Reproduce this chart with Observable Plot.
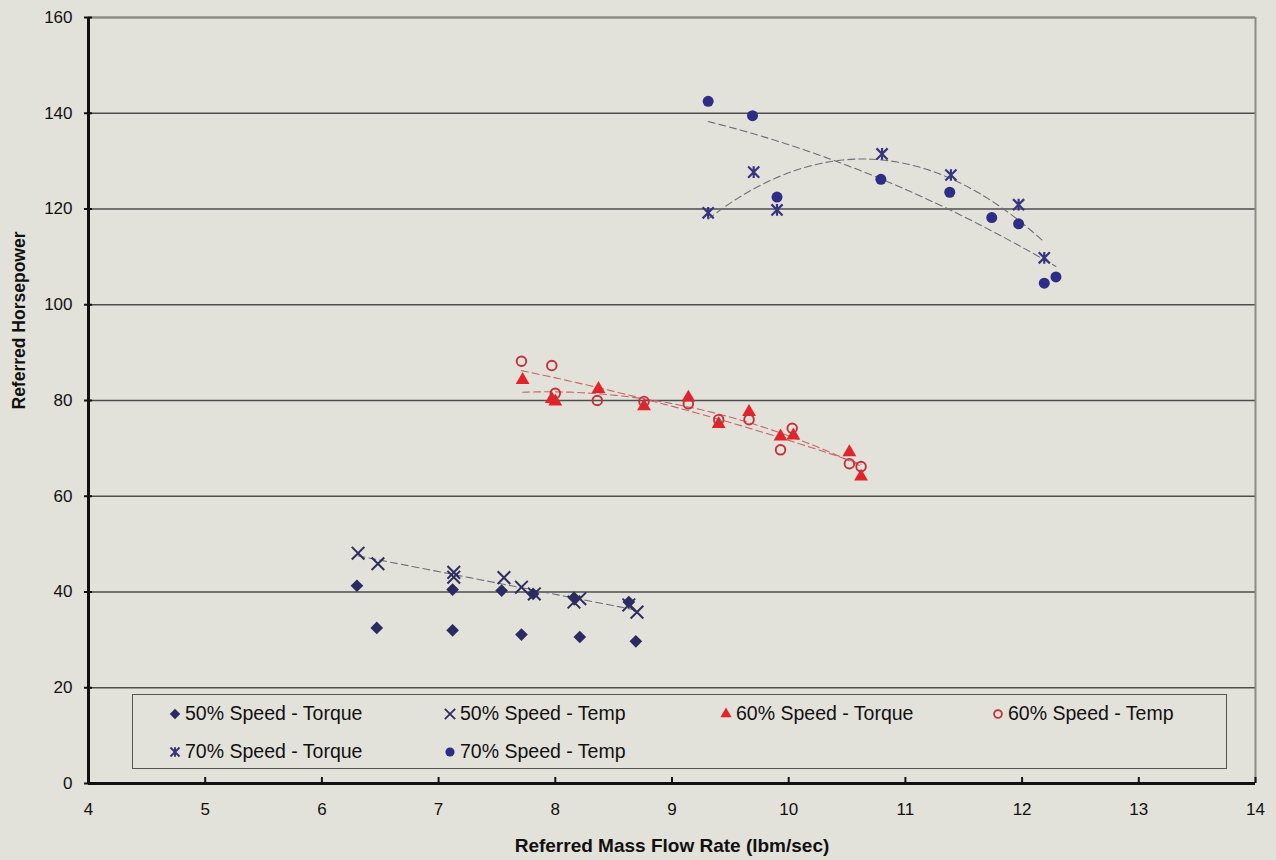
<!DOCTYPE html>
<html>
<head>
<meta charset="utf-8">
<script src="https://cdn.jsdelivr.net/npm/d3@7"></script>
<script src="https://cdn.jsdelivr.net/npm/@observablehq/plot@0.6"></script>
<style>
  html, body { margin: 0; padding: 0; background: #e3e2da; }
  #wrap { position: relative; width: 1276px; height: 860px; font-family: "Liberation Sans", Arial, sans-serif; color: #111; }
  #legend { position: absolute; left: 132px; top: 694px; width: 1093px; height: 73px; border: 1.5px solid #555; background: #e3e2da; }
  .item { position: absolute; display: flex; align-items: center; font-size: 19.5px; white-space: nowrap; }
  .item svg { display: block; margin-right: 3px; }
</style>
</head>
<body>
<div id="wrap"><div id="legend"></div></div>
<script>
// ---- Data ----
const xTicks = [4, 5, 6, 7, 8, 9, 10, 11, 12, 13, 14];
const yTicks = [0, 20, 40, 60, 80, 100, 120, 140, 160];
const xDomain = [4, 14];
const yDomain = [0, 160];

const t50x = [6.30, 6.47, 7.12, 7.12, 7.54, 7.71, 7.81, 8.21, 8.16, 8.63, 8.69];
const t50y = [41.3, 32.5, 40.5, 32.0, 40.3, 31.1, 39.6, 30.6, 38.8, 37.9, 29.7];
const p50x = [6.31, 6.48, 7.13, 7.13, 7.56, 7.71, 7.82, 8.16, 8.21, 8.63, 8.70];
const p50y = [48.1, 45.9, 44.1, 43.1, 43.0, 41.0, 39.6, 37.9, 38.6, 37.3, 35.8];
const t60x = [7.72, 7.97, 8.00, 8.37, 8.76, 9.14, 9.40, 9.66, 9.93, 10.04, 10.52, 10.62];
const t60y = [84.3, 80.3, 79.8, 82.4, 78.8, 80.6, 75.1, 77.6, 72.5, 72.7, 69.2, 64.1];
const p60x = [7.71, 7.97, 8.00, 8.36, 8.76, 9.14, 9.40, 9.66, 9.93, 10.03, 10.52, 10.62];
const p60y = [88.2, 87.3, 81.5, 80.0, 79.8, 79.3, 76.0, 76.0, 69.7, 74.2, 66.8, 66.2];
const t70x = [9.31, 9.70, 9.90, 10.80, 11.39, 11.97, 12.19];
const t70y = [119.2, 127.7, 119.8, 131.5, 127.1, 120.9, 109.8];
const p70x = [9.31, 9.69, 9.90, 10.79, 11.38, 11.74, 11.97, 12.19, 12.29];
const p70y = [142.5, 139.5, 122.5, 126.2, 123.5, 118.2, 116.9, 104.5, 105.8];

const seriesNames = ["50% Speed - Torque", "50% Speed - Temp", "60% Speed - Torque", "60% Speed - Temp", "70% Speed - Torque", "70% Speed - Temp"];
const xTitle = "Referred Mass Flow Rate (lbm/sec)";
const yTitle = "Referred Horsepower";

// ---- Helpers ----
const rows = (xs, ys) => xs.map((x, i) => ({x, y: ys[i]}));

function polyFit(xs, ys, deg) {
  const n = deg + 1;
  const A = Array.from({length: n}, () => new Array(n + 1).fill(0));
  for (let k = 0; k < xs.length; k++) {
    for (let i = 0; i < n; i++) {
      for (let j = 0; j < n; j++) A[i][j] += Math.pow(xs[k], i + j);
      A[i][n] += ys[k] * Math.pow(xs[k], i);
    }
  }
  for (let i = 0; i < n; i++) {
    let p = i;
    for (let r = i + 1; r < n; r++) if (Math.abs(A[r][i]) > Math.abs(A[p][i])) p = r;
    [A[i], A[p]] = [A[p], A[i]];
    for (let r = 0; r < n; r++) {
      if (r === i) continue;
      const f = A[r][i] / A[i][i];
      for (let c = i; c <= n; c++) A[r][c] -= f * A[i][c];
    }
  }
  return A.map((row, i) => row[n] / row[i]);
}
function trend(xs, ys, deg) {
  const c = polyFit(xs, ys, deg);
  const [lo, hi] = d3.extent(xs);
  const N = 80;
  return d3.range(N + 1).map(i => {
    const x = lo + (hi - lo) * i / N;
    return {x, y: c.reduce((s, ci, k) => s + ci * Math.pow(x, k), 0)};
  });
}

// Excel-style star marker: an X with a vertical bar
const starSymbol = {
  draw(ctx, size) {
    const r = Math.sqrt(size) * 0.56;
    ctx.moveTo(-r, -r); ctx.lineTo(r, r);
    ctx.moveTo(-r, r); ctx.lineTo(r, -r);
    ctx.moveTo(0, -r * 1.05); ctx.lineTo(0, r * 1.05);
  }
};

const navy = "#2b2a62";
const navyX = "#2f2d5e";
const navyStar = "#37357e";
const navyDot = "#2e2d86";
const red = "#e3232a";
const redO = "#c2303b";
const grayTrend = "#6e6e78";
const redTrend = "#c46868";
const dash = "7,4";

const chart = Plot.plot({
  width: 1276,
  height: 860,
  marginLeft: 88,
  marginRight: 21,
  marginTop: 17,
  marginBottom: 77,
  x: {domain: xDomain},
  y: {domain: yDomain},
  style: {background: "transparent", fontFamily: "'Liberation Sans', Arial, sans-serif", color: "#111", overflow: "visible"},
  marks: [
    Plot.gridY(yTicks, {stroke: "#4d4d4d", strokeOpacity: 1, strokeWidth: 1.4}),
    Plot.ruleY([yDomain[1]], {stroke: "#8a8a86", strokeWidth: 2}),
    Plot.ruleX([xDomain[1]], {stroke: "#8a8a86", strokeWidth: 2}),

    // trend lines
    Plot.line(trend(p50x, p50y, 1), {x: "x", y: "y", stroke: grayTrend, strokeWidth: 1.1, strokeDasharray: dash}),
    Plot.line(trend(t60x, t60y, 2), {x: "x", y: "y", stroke: redTrend, strokeWidth: 1.1, strokeDasharray: dash}),
    Plot.line(trend(p60x, p60y, 2), {x: "x", y: "y", stroke: redTrend, strokeWidth: 1.1, strokeDasharray: dash}),
    Plot.line(trend(t70x, t70y, 2), {x: "x", y: "y", stroke: grayTrend, strokeWidth: 1.1, strokeDasharray: dash}),
    Plot.line(trend(p70x, p70y, 2), {x: "x", y: "y", stroke: grayTrend, strokeWidth: 1.1, strokeDasharray: dash}),

    // points
    Plot.dot(rows(t50x, t50y), {x: "x", y: "y", symbol: "diamond2", r: 5.7, fill: navy, stroke: "none"}),
    Plot.dot(rows(p50x, p50y), {x: "x", y: "y", symbol: "times", r: 5.8, stroke: navyX, strokeWidth: 2}),
    Plot.dot(rows(t60x, t60y), {x: "x", y: "y", symbol: "triangle2", r: 6.6, fill: red, stroke: "none"}),
    Plot.dot(rows(p60x, p60y), {x: "x", y: "y", symbol: "circle", r: 4.8, fill: "none", stroke: redO, strokeWidth: 1.9}),
    Plot.dot(rows(t70x, t70y), {x: "x", y: "y", symbol: starSymbol, r: 5.6, stroke: navyStar, strokeWidth: 2.2}),
    Plot.dot(rows(p70x, p70y), {x: "x", y: "y", symbol: "circle", r: 5.5, fill: navyDot, stroke: "none"}),

    // axes
    Plot.ruleX([xDomain[0]], {stroke: "#111", strokeWidth: 3}),
    Plot.ruleY([yDomain[0]], {stroke: "#111", strokeWidth: 3}),
    Plot.axisX({ticks: xTicks, tickSize: 6, dy: -6, tickFormat: () => "", strokeWidth: 2, label: null}),
    Plot.axisY({ticks: yTicks, tickSize: 8, dx: 4, tickFormat: () => "", strokeWidth: 2, label: null}),
    Plot.axisX({ticks: xTicks, tickSize: 0, tickPadding: 19, fontSize: 17, label: null}),
    Plot.axisY({ticks: yTicks, tickSize: 0, tickPadding: 16, fontSize: 17, label: null}),
    Plot.text([xTitle], {frameAnchor: "bottom", dy: 68, fontSize: 19, fontWeight: "bold", text: d => d}),
    Plot.text([yTitle], {frameAnchor: "left", dx: -69, dy: 9, rotate: -90, fontSize: 17.5, fontWeight: "bold", text: d => d})
  ]
});
document.getElementById("wrap").prepend(chart);

// ---- Legend (HTML overlay inside the plot area) ----
const legendSymbols = [
  {type: d3.symbolDiamond2, size: 70, fill: navy, stroke: "none", sw: 0},
  {type: d3.symbolTimes, size: 72, fill: "none", stroke: navyX, sw: 1.8},
  {type: d3.symbolTriangle2, size: 90, fill: red, stroke: "none", sw: 0},
  {type: d3.symbolCircle, size: 48, fill: "none", stroke: redO, sw: 1.8},
  {type: starSymbol, size: 66, fill: "none", stroke: navyStar, sw: 2},
  {type: d3.symbolCircle, size: 66, fill: navyDot, stroke: "none", sw: 0}
];
const colLeft = [35, 310, 586, 858];
const rowTop = [7, 45];
const legend = d3.select("#legend");
seriesNames.forEach((name, i) => {
  const c = i < 4 ? i : i - 4;
  const r = i < 4 ? 0 : 1;
  const item = legend.append("div").attr("class", "item")
    .style("left", colLeft[c] + "px").style("top", rowTop[r] + "px");
  const s = legendSymbols[i];
  const svg = item.append("svg").attr("width", 14).attr("height", 14).attr("viewBox", "-7 -7 14 14").style("overflow", "visible");
  svg.append("path").attr("d", d3.symbol(s.type, s.size)())
    .attr("fill", s.fill).attr("stroke", s.stroke).attr("stroke-width", s.sw);
  item.append("span").text(name);
});
</script>
</body>
</html>
